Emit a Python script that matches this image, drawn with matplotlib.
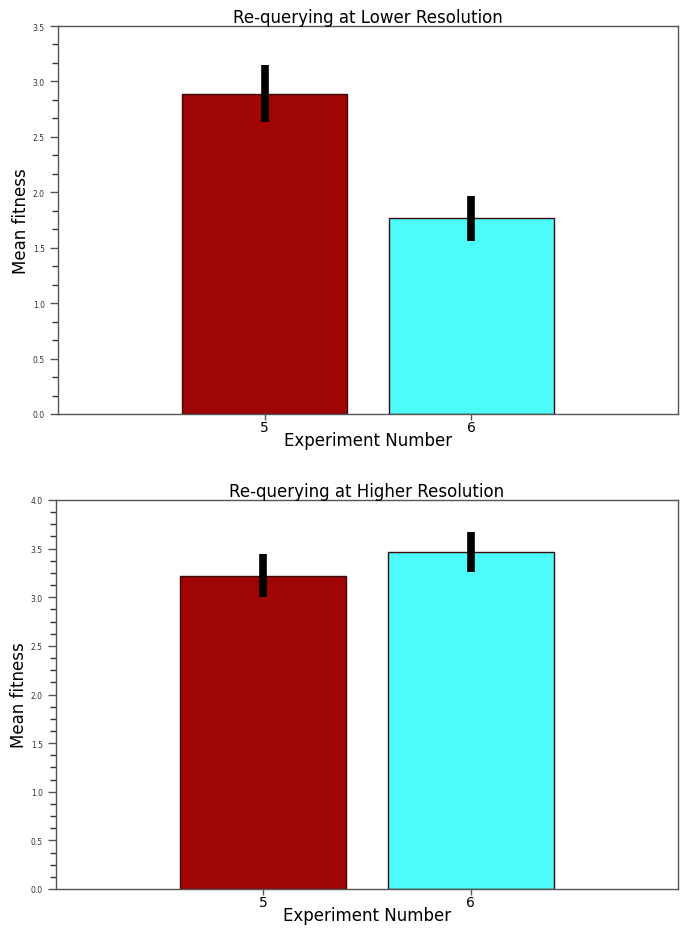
import matplotlib
matplotlib.use("Agg")
import matplotlib.pyplot as plt
from matplotlib.ticker import MultipleLocator

experiments = [5, 6]
colors = ["#A00505", "#4DFBF8"]

titles = ["Re-querying at Lower Resolution", "Re-querying at Higher Resolution"]
low_means = [2.89, 1.765]
low_errs = [0.26, 0.205]
high_means = [3.22, 3.465]
high_errs = [0.22, 0.21]
ylims = [3.5, 4.0]
minor_steps = [0.5 / 3, 0.125]

fig = plt.figure(figsize=(6.86, 9.29), dpi=100)
axes_rects = [
    [58 / 686, 1 - 415 / 929, 620 / 686, 388 / 929],
    [56 / 686, 1 - 890 / 929, 622 / 686, 389 / 929],
]
data = [(low_means, low_errs), (high_means, high_errs)]

for rect, title, (means, errs), ymax, mstep in zip(axes_rects, titles, data, ylims, minor_steps):
    ax = fig.add_axes(rect)
    ax.bar(experiments, means, width=0.8, color=colors, edgecolor="#3a0a0a", linewidth=1.0, zorder=2)
    ax.errorbar(experiments, means, yerr=errs, fmt="none", ecolor="black", elinewidth=5.5, capsize=0, zorder=3)
    ax.set_xlim(4, 7)
    ax.set_ylim(0, ymax)
    ax.set_xticks(experiments)
    ax.set_xticklabels([str(e) for e in experiments], fontsize=10)
    ax.yaxis.set_major_locator(MultipleLocator(0.5))
    ax.yaxis.set_minor_locator(MultipleLocator(mstep))
    ax.yaxis.set_major_formatter(matplotlib.ticker.FormatStrFormatter("%.1f"))
    ax.tick_params(axis="y", which="major", labelsize=5.5, length=6, width=1, color="#555555", labelcolor="#333333")
    ax.tick_params(axis="y", which="minor", length=4, width=1, color="#333333")
    ax.tick_params(axis="x", which="major", length=4, width=1, color="#555555", pad=0)
    for s in ax.spines.values():
        s.set_color("#555555")
        s.set_linewidth(1.0)
    ax.set_title(title, fontsize=12, pad=3)
    ax.set_ylabel("Mean fitness", fontsize=12, labelpad=2)
    ax.set_xlabel("Experiment Number", fontsize=12, labelpad=-2)

fig.savefig("out.png", dpi=100)
